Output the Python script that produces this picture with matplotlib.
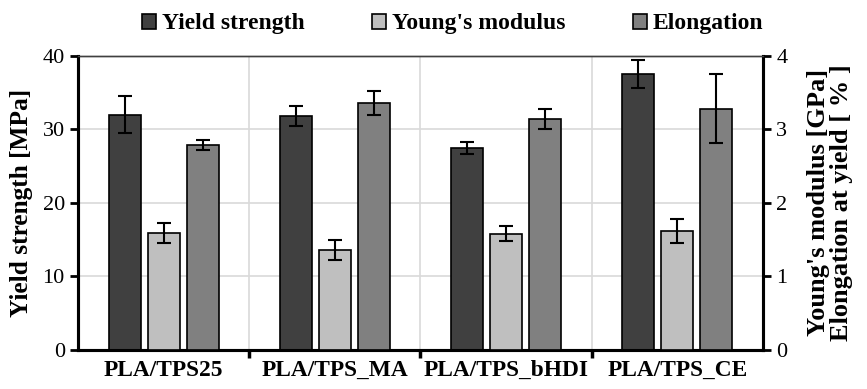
import numpy as np
import matplotlib.pyplot as plt
from matplotlib.ticker import FixedLocator

plt.rcParams['font.family'] = ['Liberation Serif', 'DejaVu Serif']

samples = ["PLA/TPS25", "PLA/TPS_MA", "PLA/TPS_bHDI", "PLA/TPS_CE"]
yield_strength = [32.0, 31.8, 27.4, 37.5]      # MPa
yield_err = [2.5, 1.3, 0.8, 1.9]
youngs_modulus = [1.59, 1.36, 1.58, 1.62]      # GPa
youngs_err = [0.13, 0.14, 0.10, 0.16]
elongation = [2.79, 3.36, 3.14, 3.28]          # %
elong_err = [0.07, 0.16, 0.14, 0.47]

x = np.arange(len(samples))
w = 0.187
off = 0.228
ekw = dict(elinewidth=1.5, capthick=1.5, ecolor='black')

fig, ax = plt.subplots(figsize=(8.67, 3.89), dpi=100)
fig.subplots_adjust(left=0.09, right=0.88, top=0.857, bottom=0.1)
ax2 = ax.twinx()

b1 = ax.bar(x - off, yield_strength, w, yerr=yield_err, capsize=5,
            color='#404040', edgecolor='black', linewidth=1.2,
            error_kw=ekw, label='Yield strength', zorder=3)
b2 = ax2.bar(x, youngs_modulus, w, yerr=youngs_err, capsize=5,
             color='#bfbfbf', edgecolor='black', linewidth=1.2,
             error_kw=ekw, label="Young's modulus", zorder=3)
b3 = ax2.bar(x + off, elongation, w, yerr=elong_err, capsize=5,
             color='#808080', edgecolor='black', linewidth=1.2,
             error_kw=ekw, label='Elongation', zorder=3)

ax.set_xlim(-0.5, 3.5)
ax.set_ylim(0, 40)
ax2.set_ylim(0, 4)
ax.set_yticks([0, 10, 20, 30, 40])
ax2.set_yticks([0, 1, 2, 3, 4])

ax.set_xticks(x)
ax.set_xticklabels(samples, fontweight='bold', fontsize=16.8)
ax.tick_params(axis='x', which='major', length=0, pad=7)
ax.xaxis.set_minor_locator(FixedLocator([0.5, 1.5, 2.5]))
ax.tick_params(axis='x', which='minor', length=6, width=2.5, direction='out')
ax.tick_params(axis='y', labelsize=16, length=6, width=2)
ax2.tick_params(axis='y', labelsize=16, length=6, width=2)

ax.grid(True, axis='y', color='#d9d9d9', linewidth=1.2, zorder=0)
ax.grid(True, axis='x', which='minor', color='#d9d9d9', linewidth=1.2, zorder=0)
ax.set_axisbelow(True)

for a in (ax, ax2):
    a.spines['left'].set_linewidth(2.2)
    a.spines['right'].set_linewidth(2.2)
    a.spines['bottom'].set_linewidth(2.2)
    a.spines['top'].set_linewidth(1.0)
    a.spines['top'].set_color('#404040')

ax.set_ylabel('Yield strength [MPa]', fontweight='bold', fontsize=18.3, labelpad=7)
ax2.set_ylabel("Young's modulus [GPa]\nElongation at yield [ % ]",
               fontweight='bold', fontsize=19, linespacing=1.0, labelpad=14)

fig.legend(handles=[b1, b2, b3], loc='upper center', bbox_to_anchor=(0.522, 1.02),
           ncol=3, frameon=False, prop={'weight': 'bold', 'size': 17},
           handlelength=0.6, handleheight=0.6, handletextpad=0.25,
           columnspacing=2.85)

fig.savefig('out.png', dpi=100)
